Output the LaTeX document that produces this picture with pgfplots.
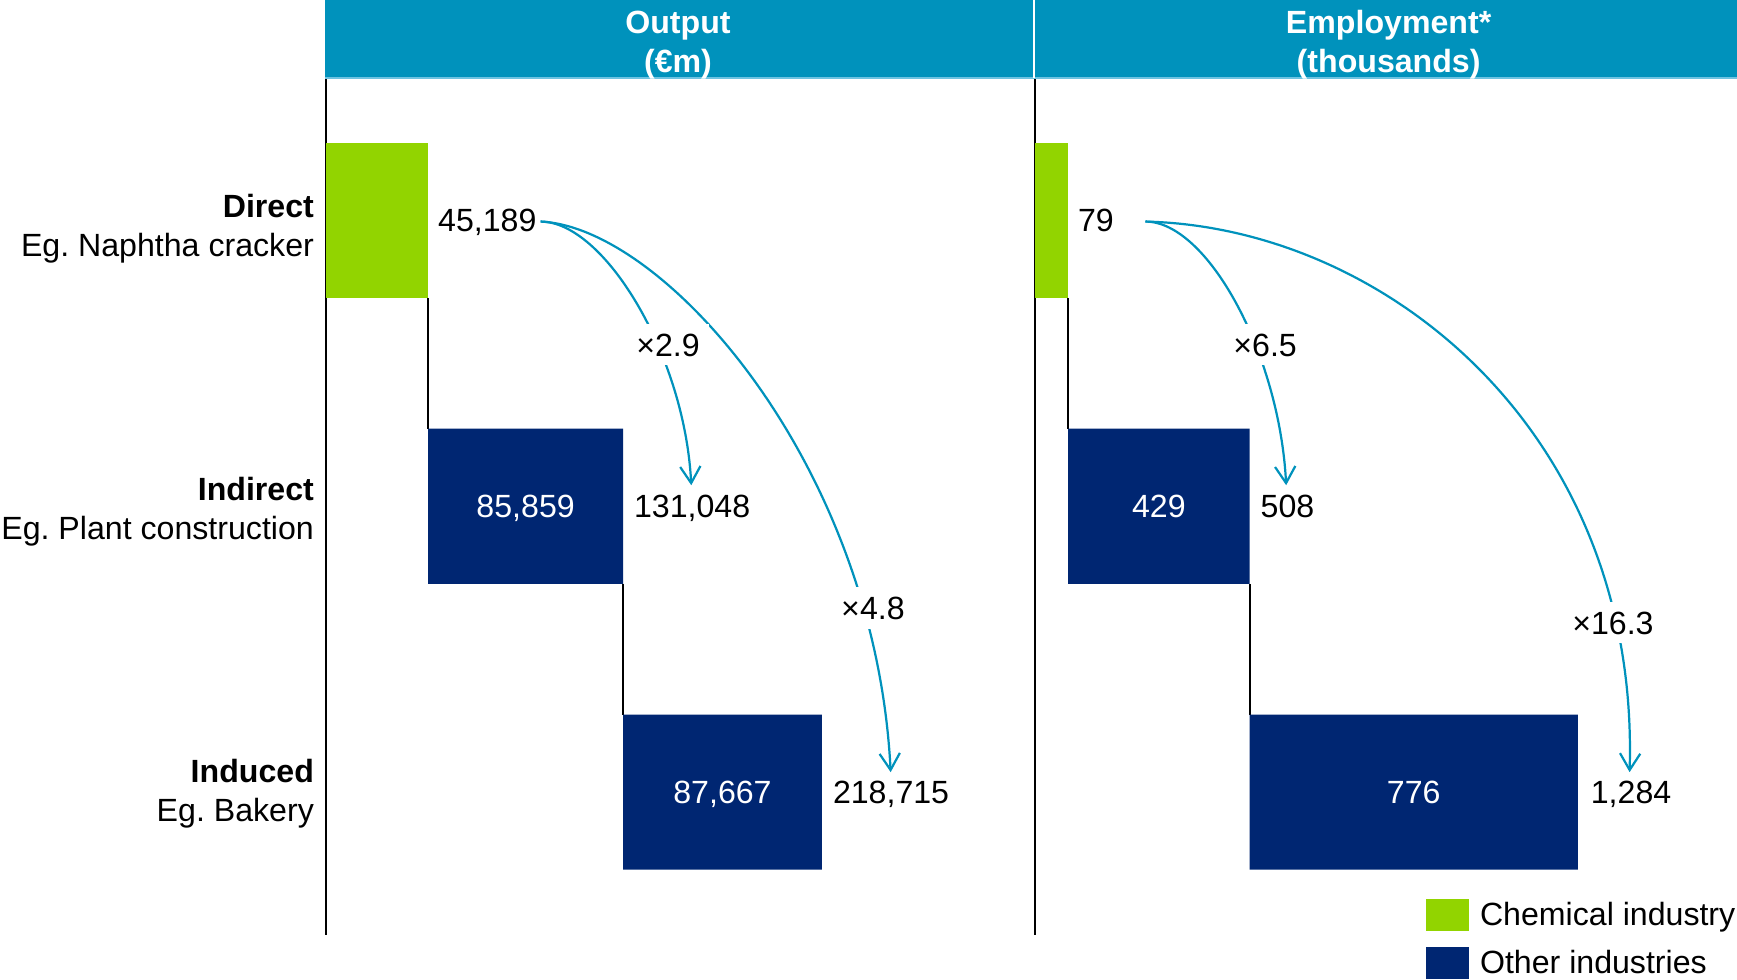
\documentclass[border=0pt]{standalone}
\usepackage{fontspec}
\setmainfont{Liberation Sans}
\usepackage{pgfplots}
\pgfplotsset{compat=1.18}
\usetikzlibrary{arrows.meta}
\definecolor{hdr}{RGB}{0,146,188}
\definecolor{hdrlight}{RGB}{110,195,225}
\definecolor{chem}{RGB}{146,212,0}
\definecolor{navy}{RGB}{0,38,114}
\newcommand{\fs}{\fontsize{8.7}{10.5}\selectfont}
\pgfplotsset{
  panel/.style={
    scale only axis, height=232.2pt,
    ymin=-0.5, ymax=2.5, y dir=reverse,
    xbar stacked, bar width=42pt,
    axis x line=none, axis y line=left,
    axis line style={-, line width=0.5pt, black},
    xtick=\empty, ytick=\empty, major tick length=0pt, tick style={draw=none},
    clip=false,
  }}
\frenchspacing
\begin{document}
\fs
\begin{tikzpicture}[
  vl/.style={inner sep=0pt, text height=0.716em, text depth=0pt},
  ml/.style={fill=white, inner sep=2.5pt, text height=0.716em, text depth=0pt},
  arr/.style={hdr, line width=0.6pt, -{Straight Barb[length=4.5pt,width=5.5pt]}},
]
% ---------------- Output panel ----------------
\begin{axis}[panel, at={(88.2pt,-253.2pt)}, anchor=south west,
  width=191.7pt, xmin=0, xmax=312000,
  ytick={0,0.9884,1.9767},
  yticklabels={{\textbf{Direct}\\Eg. Naphtha cracker},{\textbf{Indirect}\\Eg. Plant construction},{\textbf{Induced}\\Eg. Bakery}},
  yticklabel style={align=right, inner sep=0pt, xshift=-3pt, yshift=-2.3pt}]
\addplot[draw=none, fill=none] coordinates {(0,0) (45189,1) (131048,2)};
\addplot[draw=none, fill=chem] coordinates {(45189,0) (0,1) (0,2)};
\addplot[draw=none, fill=navy] coordinates {(0,0) (85859,1) (87667,2)};
\draw[black, line width=0.5pt] (axis cs:45189,0.2713) -- (axis cs:45189,0.7287);
\draw[black, line width=0.5pt] (axis cs:131048,1.2713) -- (axis cs:131048,1.7287);
\coordinate (o1) at (axis cs:45189,0);
\coordinate (o2) at (axis cs:131048,1);
\coordinate (o3) at (axis cs:218715,2);
\coordinate (oi2) at (axis cs:88118.5,1);
\coordinate (oi3) at (axis cs:174881.5,2);
\end{axis}
% ---------------- Employment panel ----------------
\begin{axis}[panel, at={(280.2pt,-253.2pt)}, anchor=south west,
  width=190.2pt, xmin=0, xmax=1660]
\addplot[draw=none, fill=none] coordinates {(0,0) (79,1) (508,2)};
\addplot[draw=none, fill=chem] coordinates {(79,0) (0,1) (0,2)};
\addplot[draw=none, fill=navy] coordinates {(0,0) (429,1) (776,2)};
\draw[black, line width=0.5pt] (axis cs:79,0.2713) -- (axis cs:79,0.7287);
\draw[black, line width=0.5pt] (axis cs:508,1.2713) -- (axis cs:508,1.7287);
\coordinate (e1) at (axis cs:79,0);
\coordinate (e2) at (axis cs:508,1);
\coordinate (e3) at (axis cs:1284,2);
\coordinate (ei2) at (axis cs:293.5,1);
\coordinate (ei3) at (axis cs:896,2);
\end{axis}
% ---------------- value labels ----------------
\node[vl, anchor=west, xshift=2.5pt] at (o1) {45,189};
\node[vl, anchor=west, xshift=2.8pt] at (o2) {131,048};
\node[vl, anchor=west, xshift=2.8pt] at (o3) {218,715};
\node[vl, text=white] at (oi2) {85,859};
\node[vl, text=white] at (oi3) {87,667};
\node[vl, anchor=west, xshift=2.5pt] at (e1) {79};
\node[vl, anchor=west, xshift=2.8pt] at (e2) {508};
\node[vl, anchor=west, xshift=3.3pt] at (e3) {1,284};
\node[vl, text=white] at (ei2) {429};
\node[vl, text=white] at (ei3) {776};
% ---------------- Legend ----------------
\begin{axis}[hide axis, scale only axis, width=10pt, height=10pt,
  at={(386.1pt,-243.3pt)}, anchor=north west,
  xmin=0, xmax=1, ymin=0, ymax=1,
  legend style={at={(0,1)}, anchor=north west, draw=none, fill=none,
    inner sep=0pt, row sep=4.2pt, column sep=3.1pt,
    nodes={inner sep=0pt}, cells={anchor=base west}},
  legend image code/.code={\fill[#1] (0pt,-1.6pt) rectangle (11.4pt,7.1pt);}]
\addlegendimage{fill=chem, draw=none}
\addlegendentry{Chemical industry}
\addlegendimage{fill=navy, draw=none}
\addlegendentry{Other industries}
\end{axis}
% ---------------- Header and arrows ----------------
\begin{scope}[x=0.3pt, y=-0.3pt]
\fill[hdr] (293,0) rectangle (1568,70);
\draw[hdrlight, line width=0.5pt] (293,70.5) -- (1568,70.5);
\draw[white, line width=0.5pt] (933.5,0) -- (933.5,70);
\node[text=white, font=\fs\bfseries, align=center, inner sep=0pt] at (612,40.6) {Output\\(€m)};
\node[text=white, font=\fs\bfseries, align=center, inner sep=0pt] at (1253.5,40.6) {Employment*\\(thousands)};
% output arrows
\draw[arr] (488,200) .. controls (545,200) and (618,320) .. (624,438);
\draw[arr] (488,200) .. controls (600,205) and (790,420) .. (804,697);
\node[ml] at (603,311) {×2.9};
\node[ml] at (788,549) {×4.8};
% employment arrows
\draw[arr] (1034,200) .. controls (1090,200) and (1155,320) .. (1161,438);
\draw[arr] (1034,200) .. controls (1250,205) and (1480,390) .. (1471,697);
\node[ml] at (1142,311) {×6.5};
\node[ml] at (1456,562) {×16.3};
\end{scope}
\pgfresetboundingbox
\path (0pt,0pt) rectangle (470.4pt,-265.2pt);
\end{tikzpicture}
\end{document}
